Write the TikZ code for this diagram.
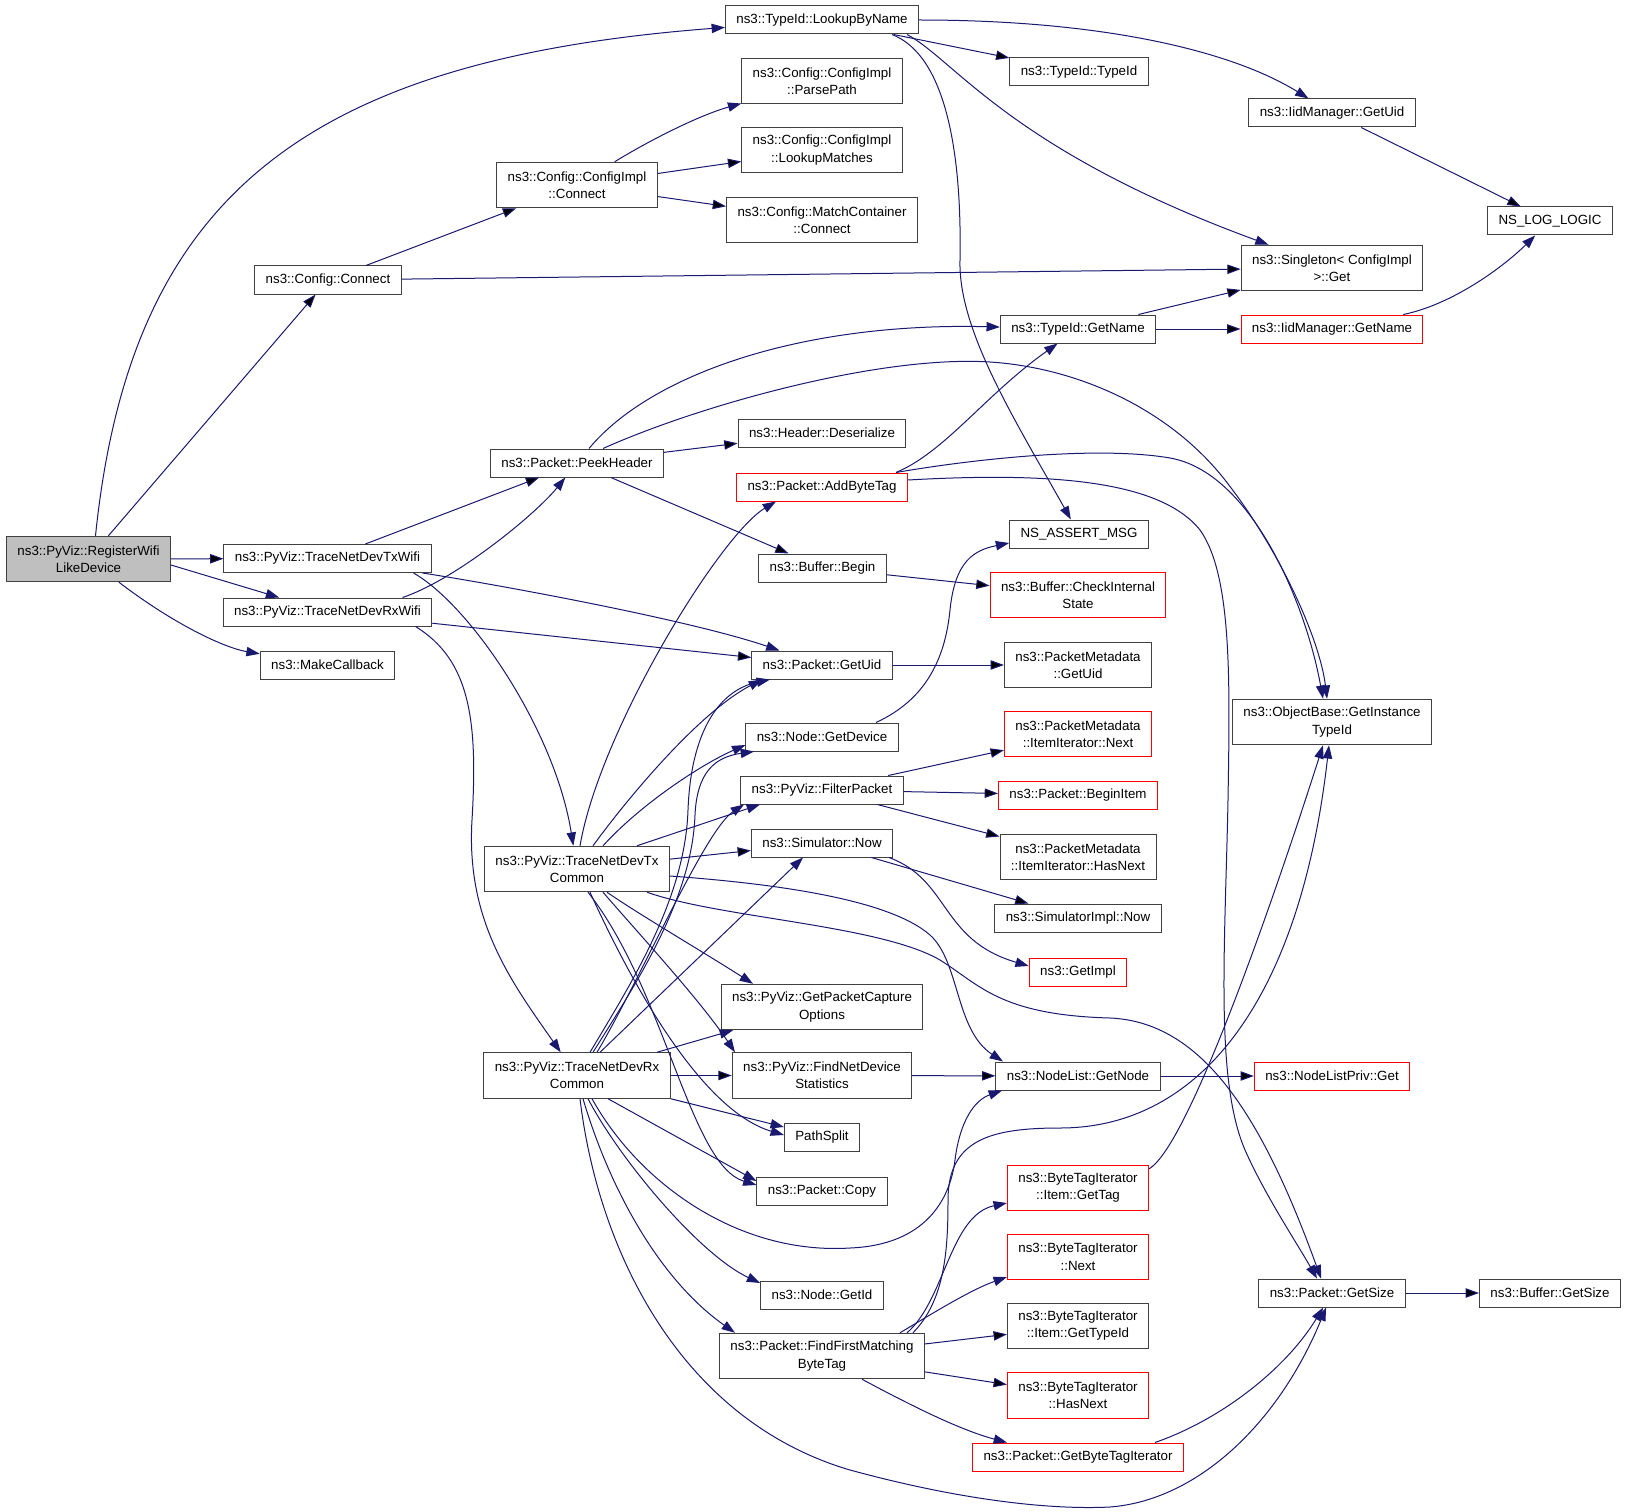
\documentclass[tikz,border=0pt]{standalone}
\usepackage{fontspec}
\newfontfamily\graphfont{Liberation Sans}
\usetikzlibrary{arrows.meta, calc}
\definecolor{edgeblue}{RGB}{25,25,112}
\definecolor{boxline}{RGB}{64,64,64}

\begin{document}
\begin{tikzpicture}[x=0.75pt, y=-0.75pt]
	% Setup the styles for the functions and the calls
	\tikzset{fn/.style={rectangle, draw=boxline, line width=0.75pt,
			inner xsep=8.2pt, inner ysep=0pt, minimum height=21pt,
			align=center, font=\graphfont\fontsize{10}{13}\selectfont},
		two/.style={minimum height=34.1pt},
		undoc/.style={draw=red},
		root/.style={fill=gray!50},
		call/.style={draw=edgeblue, line width=0.75pt,
			-{Triangle[length=10pt, width=7pt]}}}
	
	\useasboundingbox[fill=white] (0,0) rectangle (1627,1512);
	
	% column 1 and 2
	\node[fn, root, two] (reg)    at (88.5,559)   {ns3::PyViz::RegisterWifi\\LikeDevice};
	\node[fn]            (cconn)  at (328,280)    {ns3::Config::Connect};
	\node[fn]            (txwifi) at (327.5,558.5){ns3::PyViz::TraceNetDevTxWifi};
	\node[fn]            (rxwifi) at (327.5,612)  {ns3::PyViz::TraceNetDevRxWifi};
	\node[fn]            (mcb)    at (327.5,665)  {ns3::MakeCallback};
	
	% column 3
	\node[fn, two] (cimpl) at (577,185)    {ns3::Config::ConfigImpl\\::Connect};
	\node[fn]      (ph)    at (577,463)    {ns3::Packet::PeekHeader};
	\node[fn, two] (txc)   at (577,869)    {ns3::PyViz::TraceNetDevTx\\Common};
	\node[fn, two] (rxc)   at (577,1075.5) {ns3::PyViz::TraceNetDevRx\\Common};
	
	% column 4
	\node[fn]        (lbn)    at (822,20)     {ns3::TypeId::LookupByName};
	\node[fn, two]   (parse)  at (822,81)     {ns3::Config::ConfigImpl\\::ParsePath};
	\node[fn, two]   (lmatch) at (822,150)    {ns3::Config::ConfigImpl\\::LookupMatches};
	\node[fn, two]   (mconn)  at (822,220)    {ns3::Config::MatchContainer\\::Connect};
	\node[fn]        (hdes)   at (822,433)    {ns3::Header::Deserialize};
	\node[fn, undoc] (abt)    at (822,487)    {ns3::Packet::AddByteTag};
	\node[fn]        (bbegin) at (822.5,568)  {ns3::Buffer::Begin};
	\node[fn]        (guid)   at (822,665)    {ns3::Packet::GetUid};
	\node[fn]        (gdev)   at (822,737)    {ns3::Node::GetDevice};
	\node[fn]        (filt)   at (822,790)    {ns3::PyViz::FilterPacket};
	\node[fn]        (snow)   at (822,843)    {ns3::Simulator::Now};
	\node[fn, two]   (opts)   at (822,1007)   {ns3::PyViz::GetPacketCapture\\Options};
	\node[fn, two]   (fstat)  at (822,1075.5) {ns3::PyViz::FindNetDevice\\Statistics};
	\node[fn]        (psplit) at (822,1137)   {PathSplit};
	\node[fn]        (copy)   at (822,1191)   {ns3::Packet::Copy};
	\node[fn]        (gid)    at (822,1295)   {ns3::Node::GetId};
	\node[fn, two]   (ffmbt)  at (822,1356)   {ns3::Packet::FindFirstMatching\\ByteTag};
	
	% column 5
	\node[fn]             (tidtid)   at (1079,72)     {ns3::TypeId::TypeId};
	\node[fn]             (gname)    at (1078,329)    {ns3::TypeId::GetName};
	\node[fn]             (nsassert) at (1079,534)    {NS\_ASSERT\_MSG};
	\node[fn, two, undoc] (bcheck)   at (1078,595)    {ns3::Buffer::CheckInternal\\State};
	\node[fn, two]        (pmuid)    at (1078,665)    {ns3::PacketMetadata\\::GetUid};
	\node[fn, two, undoc] (pmnext)   at (1078,734)    {ns3::PacketMetadata\\::ItemIterator::Next};
	\node[fn, undoc]      (bitem)    at (1078,795)    {ns3::Packet::BeginItem};
	\node[fn, two]        (pmhas)    at (1078,857)    {ns3::PacketMetadata\\::ItemIterator::HasNext};
	\node[fn]             (simpl)    at (1078,918)    {ns3::SimulatorImpl::Now};
	\node[fn, undoc]      (gimpl)    at (1078,972)    {ns3::GetImpl};
	\node[fn]             (gnode)    at (1078,1076)   {ns3::NodeList::GetNode};
	\node[fn, two, undoc] (bgettag)  at (1078,1188)   {ns3::ByteTagIterator\\::Item::GetTag};
	\node[fn, two, undoc] (bnext)    at (1078,1257)   {ns3::ByteTagIterator\\::Next};
	\node[fn, two]        (btypeid)  at (1078,1326)   {ns3::ByteTagIterator\\::Item::GetTypeId};
	\node[fn, two, undoc] (bhas)     at (1078,1395.5) {ns3::ByteTagIterator\\::HasNext};
	\node[fn, undoc]      (gbti)     at (1078,1457)   {ns3::Packet::GetByteTagIterator};
	
	% column 6 and 7
	\node[fn]        (iiduid)  at (1332,113)  {ns3::IidManager::GetUid};
	\node[fn, two]   (single)  at (1332,268)  {ns3::Singleton< ConfigImpl\\>::Get};
	\node[fn, undoc] (iidname) at (1332,329)  {ns3::IidManager::GetName};
	\node[fn, two]   (objb)    at (1332,722)  {ns3::ObjectBase::GetInstance\\TypeId};
	\node[fn, undoc] (nlpriv)  at (1332,1076) {ns3::NodeListPriv::Get};
	\node[fn]        (gsize)   at (1332,1293) {ns3::Packet::GetSize};
	\node[fn]        (nslog)   at (1550,221)  {NS\_LOG\_LOGIC};
	\node[fn]        (bgsize)  at (1550,1293) {ns3::Buffer::GetSize};
	
	% straight calls, centre to centre
	\draw[call]
	(reg)    edge (cconn)
	(reg)    edge (txwifi)
	(cconn)  edge (cimpl)
	(cconn)  edge (single)
	(cimpl)  edge (lmatch)
	(cimpl)  edge (mconn)
	(lbn)    edge (tidtid)
	(iiduid) edge (nslog)
	(gname)  edge (single)
	(gname)  edge (iidname)
	(txwifi) edge (ph)
	(rxwifi) edge (guid)
	(ph)     edge (hdes)
	(ph)     edge (bbegin)
	(bbegin) edge (bcheck)
	(guid)   edge (pmuid)
	(filt)   edge (pmnext)
	(filt)   edge (bitem)
	(filt)   edge (pmhas)
	(snow)   edge (simpl)
	(txc)    edge (snow)
	(rxc)    edge (fstat)
	(fstat)  edge (gnode)
	(gnode)  edge (nlpriv)
	(ffmbt)  edge (btypeid)
	(ffmbt)  edge (bhas)
	(gsize)  edge (bgsize);
	
	% straight calls between side points
	\draw[call] ($(reg.east)+(0,6)$) -- (rxwifi);
	\draw[call] ($(txc.north)+(60,0)$) -- ($(filt.south)+(-62,0)$);
	\draw[call] ($(rxc.north)+(23,0)$) -- ($(snow.south)+(-19,0)$);
	\draw[call] ($(rxc.north)+(80,0)$) -- ($(opts.south)+(-89,0)$);
	\draw[call] (rxc.south east) -- ($(psplit.west)+(0,-10)$);
	\draw[call] ($(rxc.south)+(31,0)$) -- ($(copy.west)+(0,-10)$);
	
	% curved calls from the top part
	\draw[call] ($(reg.north)+(7,0)$) .. controls (130,200) and (300,60) .. (lbn);
	\draw[call] (reg) .. controls (175,625) and (225,648) .. (mcb);
	\draw[call] (cimpl) .. controls (650,140) and (700,115) .. (parse);
	\draw[call] (lbn) .. controls (1100,20) and (1230,50) .. (iiduid);
	\draw[call] ($(lbn.south)+(85,0)$) .. controls (955,60) and (1010,150) .. (single);
	\draw[call] ($(lbn.south)+(70,0)$) .. controls (945,55) and (962,150) .. (960,260)
	.. controls (958,330) and (1015,420) .. (nsassert);
	\draw[call] (iidname) .. controls (1450,305) and (1500,270) .. (nslog);
	\draw[call] ($(rxwifi.north)+(75,0)$) .. controls (455,580) and (535,515) .. (ph);
	\draw[call] ($(txwifi.south)+(95,0)$) .. controls (500,585) and (690,620) .. (guid);
	\draw[call] ($(txwifi.south)+(86,0)$) .. controls (470,605) and (555,730) .. (txc);
	\draw[call] ($(rxwifi.south)+(88,0)$) .. controls (470,660) and (478,720) .. (472,820)
	.. controls (466,920) and (510,980) .. (rxc);
	\draw[call] (ph) .. controls (650,375) and (800,322) .. (gname);
	\draw[call] ($(ph.north)+(26,0)$) .. controls (700,405) and (880,355) .. (990,362)
	.. controls (1080,368) and (1170,410) .. (1225,480)
	.. controls (1280,550) and (1320,640) .. ($(objb.north)+(-5,0)$);
	\draw[call] ($(abt.north)+(74,0)$) .. controls (945,452) and (985,395) .. (gname);
	\draw[call] ($(abt.north)+(74,0)$) .. controls (980,458) and (1100,446) .. (1170,458)
	.. controls (1250,472) and (1305,600) .. ($(objb.north)+(-9,0)$);
	\draw[call] ($(abt.east)+(0,-7)$) .. controls (1050,472) and (1160,480) .. (1200,530)
	.. controls (1232,575) and (1230,680) .. (1228,800)
	.. controls (1225,950) and (1215,1080) .. (1245,1150)
	.. controls (1265,1195) and (1295,1240) .. ($(gsize.north)+(-15,0)$);
	\draw[call] ($(gdev.north)+(54,0)$) .. controls (925,700) and (945,660) .. (950,610)
	.. controls (955,560) and (975,550) .. ($(nsassert.west)+(0,9)$);
	\draw[call] ($(snow.south)+(67,0)$) .. controls (950,880) and (940,940) .. ($(gimpl.west)+(0,-6)$);
	
	% calls of TraceNetDevTxCommon
	\draw[call] ($(txc.north)+(3,0)$) .. controls (600,730) and (720,535) .. ($(abt.south)+(-46,0)$);
	\draw[call] ($(txc.north)+(16,0)$) .. controls (630,795) and (700,712) .. ($(guid.south)+(-60,0)$);
	\draw[call] ($(txc.north)+(26,0)$) .. controls (640,805) and (700,765) .. ($(gdev.west)+(0,8)$);
	\draw[call] ($(txc.east)+(0,7)$) .. controls (780,884) and (890,900) .. (930,935)
	.. controls (960,962) and (955,1030) .. ($(gnode.north)+(-75,0)$);
	\draw[call] ($(txc.south)+(70,0)$) .. controls (720,918) and (880,925) .. (940,960)
	.. controls (980,985) and (1000,1015) .. (1110,1018)
	.. controls (1200,1022) and (1260,1110) .. ($(gsize.north)+(-11,0)$);
	\draw[call] ($(txc.south)+(30,0)$) .. controls (640,915) and (700,950) .. ($(opts.north)+(-69,0)$);
	\draw[call] ($(txc.south)+(26,0)$) .. controls (640,935) and (700,1000) .. ($(fstat.north)+(-87,0)$);
	\draw[call] ($(txc.south)+(13,0)$) .. controls (630,980) and (700,1110) .. ($(psplit.west)+(0,-2)$);
	\draw[call] ($(txc.south)+(11,0)$) .. controls (665,990) and (690,1165) .. ($(copy.west)+(0,-6)$);
	
	% calls of TraceNetDevRxCommon
	\draw[call] ($(rxc.north)+(13,0)$) .. controls (630,985) and (685,900) .. (688,810)
	.. controls (691,730) and (720,690) .. ($(guid.south)+(-52,0)$);
	\draw[call] ($(rxc.north)+(16,0)$) .. controls (635,985) and (692,900) .. (695,815)
	.. controls (697,772) and (715,757) .. ($(gdev.south)+(-68,0)$);
	\draw[call] ($(rxc.north)+(20,0)$) .. controls (640,980) and (705,830) .. ($(filt.south)+(-78,0)$);
	\draw[call] ($(rxc.south)+(15,0)$) .. controls (640,1185) and (740,1255) .. (850,1248)
	.. controls (925,1245) and (950,1200) .. (955,1160)
	.. controls (960,1120) and (975,1100) .. ($(gnode.south)+(-76,0)$);
	\draw[call] ($(rxc.south)+(11,0)$) .. controls (620,1160) and (700,1255) .. ($(gid.west)+(0,-12)$);
	\draw[call] ($(rxc.south)+(6,0)$) .. controls (610,1190) and (660,1280) .. ($(ffmbt.north)+(-87,0)$);
	\draw[call] ($(rxc.south)+(3,0)$) .. controls (598,1250) and (680,1420) .. (850,1470)
	.. controls (960,1500) and (1050,1510) .. (1110,1507)
	.. controls (1200,1500) and (1280,1420) .. (gsize);
	
	% calls of FindFirstMatchingByteTag and the byte tags
	\draw[call] ($(ffmbt.north)+(85,0)$) .. controls (945,1300) and (950,1215) .. ($(bgettag.west)+(0,15)$);
	\draw[call] ($(ffmbt.north)+(78,0)$) .. controls (930,1315) and (970,1290) .. ($(bnext.west)+(0,20)$);
	\draw[call] ($(ffmbt.south)+(40,0)$) .. controls (910,1405) and (960,1430) .. ($(gbti.north)+(-71,0)$);
	\draw[call] ($(ffmbt.north)+(91,0)$) .. controls (945,1300) and (948,1250) .. (948,1200)
	.. controls (948,1140) and (990,1128) .. (1060,1128)
	.. controls (1200,1128) and (1300,1000) .. ($(objb.south)+(-3,0)$);
	\draw[call] ($(bgettag.north east)+(0,4)$) .. controls (1190,1145) and (1280,880) .. ($(objb.south)+(-9,0)$);
	\draw[call] ($(gbti.north)+(77,0)$) .. controls (1220,1420) and (1285,1370) .. (gsize);
	
\end{tikzpicture}
\end{document}
